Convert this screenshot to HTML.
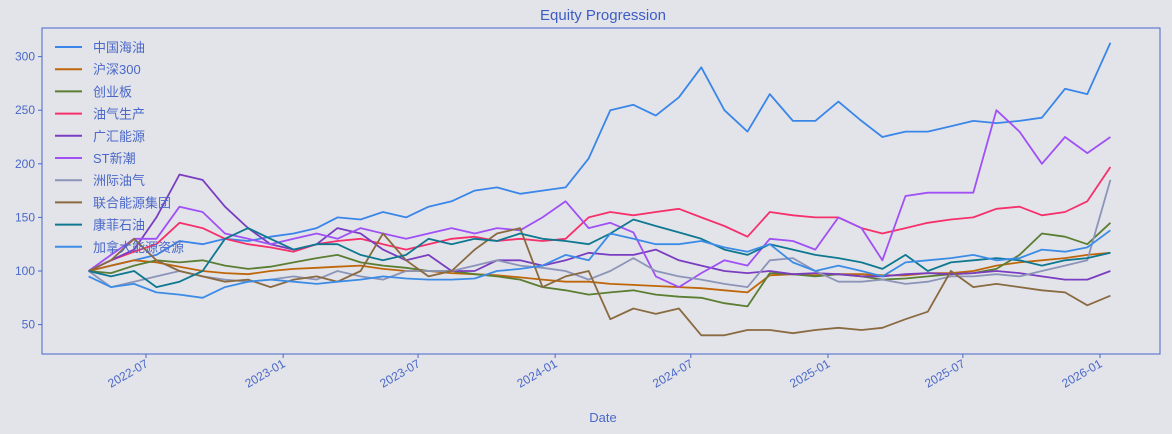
<!DOCTYPE html>
<html><head><meta charset="utf-8">
<style>
html,body{margin:0;padding:0;background:#e3e4ea;}
svg{display:block;font-family:"Liberation Sans","Noto Sans CJK SC",sans-serif;}
</style></head>
<body>
<svg id="chart" width="1172" height="434" viewBox="0 0 1172 434">
<rect x="0" y="0" width="1172" height="434" fill="#e3e4ea"/>
<text x="603" y="20" text-anchor="middle" font-size="15" fill="#3d5cc4">Equity Progression</text>
<g id="grid"></g>
<g id="series"></g>
<rect x="42" y="28" width="1118" height="326" fill="none" stroke="#4a66c8" stroke-width="1"/>
<g id="axes"></g>
<text x="603" y="422" text-anchor="middle" font-size="13" fill="#4a68c8">Date</text>
<g id="legend"></g>
</svg>
<script>
const dates = ["2022-04-15","2022-05-15","2022-06-15","2022-07-15","2022-08-15","2022-09-15","2022-10-15","2022-11-15","2022-12-15",
"2023-01-15","2023-02-15","2023-03-15","2023-04-15","2023-05-15","2023-06-15","2023-07-15","2023-08-15","2023-09-15","2023-10-15","2023-11-15","2023-12-15",
"2024-01-15","2024-02-15","2024-03-15","2024-04-15","2024-05-15","2024-06-15","2024-07-15","2024-08-15","2024-09-15","2024-10-15","2024-11-15","2024-12-15",
"2025-01-15","2025-02-15","2025-03-15","2025-04-15","2025-05-15","2025-06-15","2025-07-15","2025-08-15","2025-09-15","2025-10-15","2025-11-15","2025-12-15",
"2026-01-15"];
const seriesNames = ["中国海油","沪深300","创业板","油气生产","广汇能源","ST新潮","洲际油气","联合能源集团","康菲石油","加拿大能源资源"];
const seriesColors = ["#3a86e8","#c0660a","#5b7e32","#f5306a","#7a3cc0","#a050f5","#8c94b8","#8a6a40","#0e7890","#3c8ce6"];
const cnooc = [100,105,110,115,128,125,130,128,132,135,140,150,148,155,150,160,165,175,178,172,175,178,205,250,255,245,262,290,250,230,265,240,240,258,240,225,230,230,235,240,238,240,243,270,265,313];
const csi300 = [100,105,110,108,104,100,98,97,100,102,103,104,105,102,100,100,98,97,96,94,92,90,90,88,87,86,85,84,82,80,96,97,96,97,97,96,96,98,98,100,105,108,110,112,115,117];
const chinext = [100,98,105,110,108,110,105,102,104,108,112,115,108,105,103,100,100,97,95,92,85,82,78,80,82,78,76,75,70,67,98,97,95,97,95,92,93,95,97,98,102,115,135,132,125,145];
const oilgas = [100,110,118,125,145,140,130,125,122,118,125,128,130,125,120,125,130,132,128,130,128,130,150,155,152,155,158,150,142,132,155,152,150,150,140,135,140,145,148,150,158,160,152,155,165,197];
const guanghui = [100,110,120,150,190,185,160,140,125,120,125,140,135,120,110,115,100,100,110,110,105,110,117,115,115,120,110,105,100,98,100,97,98,97,95,95,97,98,97,98,100,98,95,92,92,100];
const stxc = [100,115,130,130,160,155,135,130,125,130,135,130,140,135,130,135,140,135,140,138,150,165,140,145,136,95,85,98,110,105,130,128,120,150,140,110,170,173,173,173,250,230,200,225,210,225];
const zhouji = [100,85,90,95,100,95,92,90,92,95,92,100,95,92,100,100,100,105,110,105,103,100,92,100,112,100,95,92,88,85,110,112,100,90,90,92,88,90,95,95,97,95,100,105,110,185];
const united = [100,110,130,110,100,95,90,92,85,92,95,90,100,135,110,95,100,120,135,140,85,95,100,55,65,60,65,40,40,45,45,42,45,47,45,47,55,62,100,85,88,85,82,80,68,77];
const conoco = [100,95,100,85,90,100,130,140,130,120,125,125,115,110,115,130,125,130,128,135,130,128,125,135,148,142,136,130,120,115,125,120,115,112,108,102,115,100,108,110,112,110,105,110,112,117];
const canada = [95,85,88,80,78,75,85,90,92,90,88,90,92,95,93,92,92,93,100,102,105,115,110,135,130,125,125,128,122,118,125,108,100,105,100,95,108,110,112,115,110,112,120,118,122,138];
const seriesValues = [cnooc,csi300,chinext,oilgas,guanghui,stxc,zhouji,united,conoco,canada];
const yTicks = [50,100,150,200,250,300];
const xTickLabels = ["2022-07","2023-01","2023-07","2024-01","2024-07","2025-01","2025-07","2026-01"];

const NS = "http://www.w3.org/2000/svg";
const t0 = Date.parse("2022-07-01"), t1 = Date.parse("2026-01-01");
function xScale(d){ return 146 + (Date.parse(d) - t0) / (t1 - t0) * (1100 - 146); }
function yScale(v){ return 271 - (v - 100) * 1.072; }
function mk(tag, attrs, parent){ const e = document.createElementNS(NS, tag); for (const k in attrs) e.setAttribute(k, attrs[k]); parent.appendChild(e); return e; }

const axes = document.getElementById("axes");
yTicks.forEach(v => {
  const y = yScale(v);
  const tk = mk("line", {x1:38, x2:42, y1:y, y2:y, stroke:"#4a66c8"}, axes);
  
  
  const tx = mk("text", {x:35, y:y+4, "text-anchor":"end", "font-size":12, fill:"#4a68c8"}, axes);
  
  
  tx.textContent = v;
});
xTickLabels.forEach(lbl => {
  const x = xScale(lbl + "-01");
  const tk = mk("line", {x1:x, x2:x, y1:354, y2:358, stroke:"#4a66c8"}, axes);
  
  
  const tx = mk("text", {x:x+3, y:366, "text-anchor":"end", "font-size":12, fill:"#4a68c8", transform:`rotate(-30 ${x+3} 366)`}, axes);
  
  
  tx.textContent = lbl;
});

const sg = document.getElementById("series");
seriesValues.forEach((vals, i) => {
  const pts = vals.map((v, j) => xScale(dates[j]).toFixed(1) + "," + yScale(v).toFixed(1)).join(" ");
  const pl = mk("polyline", {points:pts, fill:"none", stroke:seriesColors[i], "stroke-width":1.8, "stroke-linejoin":"round"}, sg);
  
  
});

const lg = document.getElementById("legend");
seriesNames.forEach((n, i) => {
  const y = 47 + i * 22.2;
  const g = mk("g", {}, lg);
  
  
  mk("line", {x1:55, x2:82, y1:y, y2:y, stroke:seriesColors[i], "stroke-width":2}, g);
  const t = mk("text", {x:93, y:y+5, "font-size":13, fill:"#4a68c8"}, g);
  t.textContent = n;
});
</script>
</body></html>
